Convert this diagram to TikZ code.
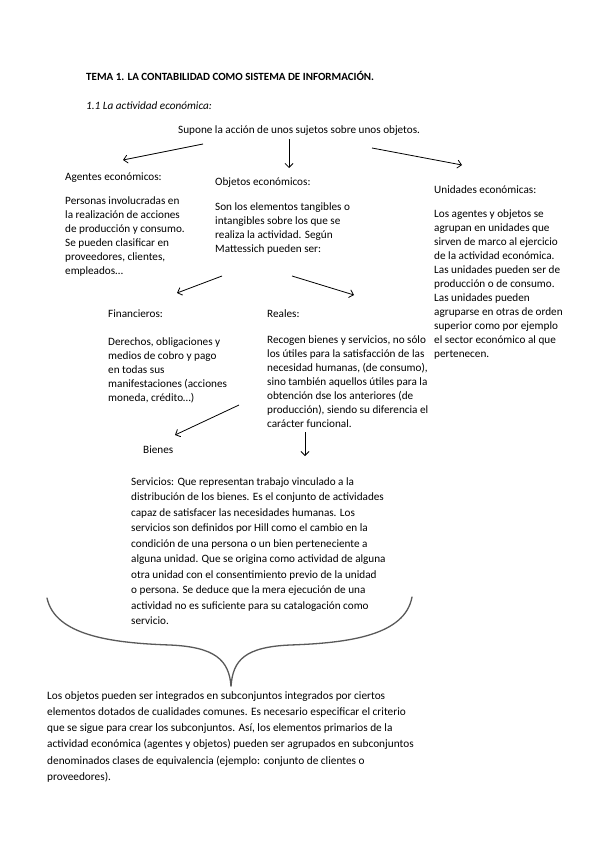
\documentclass[tikz,border=0pt]{standalone}
\usepackage{fontspec}
\setmainfont{Carlito}
\usepackage{tikz}
\usetikzlibrary{arrows.meta}
\newcommand{\acstrut}{\rule{0pt}{10pt}}
\tikzset{
  actitle/.style={anchor=base west, inner sep=0pt, font=\bfseries\fontsize{11}{14}\selectfont},
  acsect/.style={anchor=base west, inner sep=0pt, font=\itshape\fontsize{11.2}{14}\selectfont},
  aclabel/.style={anchor=base west, inner sep=0pt, font=\fontsize{11.2}{14}\selectfont},
  actext/.style={anchor=north west, inner sep=0pt, align=left, font=\fontsize{11.2}{14}\selectfont},
  actextwide/.style={actext, font=\fontsize{11.2}{15.5}\selectfont},
  actextlast/.style={actext, font=\fontsize{11.3}{16.2}\selectfont},
  acarrow/.style={line width=0.8pt, draw=black, -{Straight Barb[length=4pt,width=8pt]}},
  acbrace/.style={line width=1.3pt, draw=black!65, line cap=round},
}

\begin{document}
\begin{tikzpicture}[x=1pt,y=-1pt]
\useasboundingbox (0,0) rectangle (599,848);
\node[actitle] (title) at (86,81) {TEMA 1. LA CONTABILIDAD COMO SISTEMA DE INFORMACIÓN.};
\node[acsect] (sect) at (86,110) {1.1 La actividad económica:};
\node[aclabel] (supone) at (178,134) {Supone la acción de unos sujetos sobre unos objetos.};
\node[aclabel] (agentes) at (65,180) {Agentes económicos:};
\node[actext] (agentestxt) at (65,194) {\acstrut Personas involucradas en\\la realización de acciones\\de producción y consumo.\\Se pueden clasificar en\\proveedores, clientes,\\empleados…};
\node[aclabel] (objetos) at (215,185) {Objetos económicos:};
\node[actext] (objetostxt) at (215,200) {\acstrut Son los elementos tangibles o\\intangibles sobre los que se\\realiza la actividad. Según\\Mattessich pueden ser:};
\node[aclabel] (unidades) at (434,193) {Unidades económicas:};
\node[actext] (unidadestxt) at (434,207) {\acstrut Los agentes y objetos se\\agrupan en unidades que\\sirven de marco al ejercicio\\de la actividad económica.\\Las unidades pueden ser de\\producción o de consumo.\\Las unidades pueden\\agruparse en otras de orden\\superior como por ejemplo\\el sector económico al que\\pertenecen.};
\node[aclabel] (financieros) at (108,317) {Financieros:};
\node[actext] (financierostxt) at (108,335) {\acstrut Derechos, obligaciones y\\medios de cobro y pago\\en todas sus\\manifestaciones (acciones\\moneda, crédito…)};
\node[aclabel] (reales) at (267,317) {Reales:};
\node[actext] (realestxt) at (267,333) {\acstrut Recogen bienes y servicios, no sólo\\los útiles para la satisfacción de las\\necesidad humanas, (de consumo),\\sino también aquellos útiles para la\\obtención dse los anteriores (de\\producción), siendo su diferencia el\\carácter funcional.};
\node[aclabel] (bienes) at (143,453) {Bienes};
\node[actextwide] (servicios) at (131,475) {\acstrut Servicios: Que representan trabajo vinculado a la\\distribución de los bienes. Es el conjunto de actividades\\capaz de satisfacer las necesidades humanas. Los\\servicios son definidos por Hill como el cambio en la\\condición de una persona o un bien perteneciente a\\alguna unidad. Que se origina como actividad de alguna\\otra unidad con el consentimiento previo de la unidad\\o persona. Se deduce que la mera ejecución de una\\actividad no es suficiente para su catalogación como\\servicio.};
\node[actextlast] (clases) at (47,689) {\acstrut Los objetos pueden ser integrados en subconjuntos integrados por ciertos\\elementos dotados de cualidades comunes. Es necesario especificar el criterio\\que se sigue para crear los subconjuntos. Así, los elementos primarios de la\\actividad económica (agentes y objetos) pueden ser agrupados en subconjuntos\\denominados clases de equivalencia (ejemplo: conjunto de clientes o\\proveedores).};
% arrow ends
\coordinate (toagentes) at (123,160);
\coordinate (toobjetos) at (289,168);
\coordinate (tounidades) at (462,165);
\coordinate (tofin) at (177,293);
\coordinate (toreal) at (354,295);
\coordinate (tobienes) at (175,435);
\coordinate (toserv) at (305,456);
\draw[acarrow] (203,144) -- (toagentes);
\draw[acarrow] (289,139) -- (toobjetos);
\draw[acarrow] (372,148) -- (tounidades);
\draw[acarrow] (222,276) -- (tofin);
\draw[acarrow] (292,276) -- (toreal);
\draw[acarrow] (239,405) -- (tobienes);
\draw[acarrow] (305,432) -- (toserv);
% brace
\coordinate (bleft) at (47,598);
\coordinate (bright) at (412,597);
\coordinate (btip) at (231,686);
\draw[acbrace] (bleft) .. controls (55,635) and (110,643) .. (170,645) .. controls (215,647) and (229,660) .. (btip);
\draw[acbrace] (bright) .. controls (405,635) and (350,643) .. (290,645) .. controls (245,647) and (233,660) .. (btip);
\end{tikzpicture}
\end{document}
